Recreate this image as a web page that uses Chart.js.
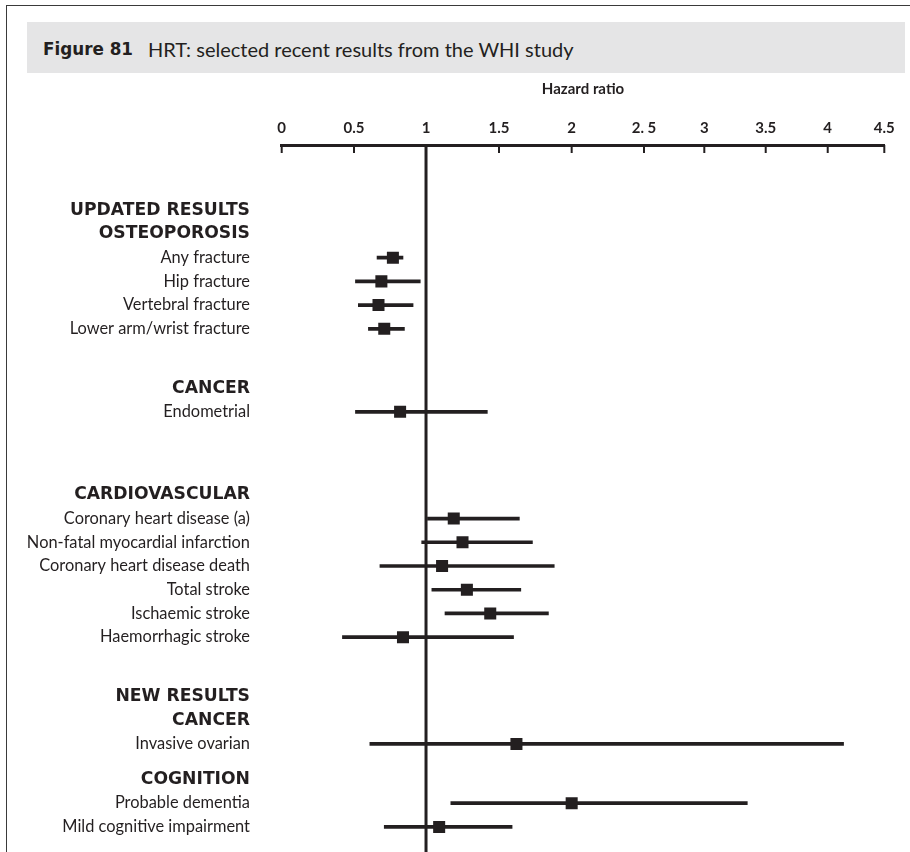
<!DOCTYPE html>
<html lang="en">
<head>
<meta charset="UTF-8" />
<title>Figure 81 HRT: selected recent results from the WHI study</title>
<script src="https://cdn.jsdelivr.net/npm/chart.js@4.4.1/dist/chart.umd.min.js"></script>
<style>
  body { margin: 0; background: #fff; font-family: Lato, sans-serif; color: #231f20; }
  #wrap { position: relative; width: 910px; height: 852px; overflow: hidden; }
  .frame {
    position: absolute; left: 6px; top: 5px; width: 1000px; height: 1000px;
    border-left: 1.5px solid #3a3a3a; border-top: 1.5px solid #3a3a3a;
  }
  .band {
    position: absolute; left: 27px; top: 22px; width: 878px; height: 51px;
    background: #e5e5e6; box-sizing: border-box; padding: 2px 0 0 16px;
    display: flex; align-items: center; font-size: 20px;
  }
  .band b { font-family: 'DejaVu Sans', sans-serif; font-size: 16.8px; margin-right: 15px; }
  canvas { position: absolute; left: 0; top: 0; }
</style>
</head>
<body>
<div id="wrap">
  <div class="frame"></div>
  <div class="band"><b>Figure 81</b><span>HRT: selected recent results from the WHI study</span></div>
  <canvas id="forest" width="910" height="852"></canvas>
</div>

<script>
  const labels = [
    'UPDATED RESULTS', 'OSTEOPOROSIS', 'Any fracture', 'Hip fracture', 'Vertebral fracture',
    'Lower arm/wrist fracture', 'CANCER', 'Endometrial', 'CARDIOVASCULAR',
    'Coronary heart disease (a)', 'Non-fatal myocardial infarction', 'Coronary heart disease death',
    'Total stroke', 'Ischaemic stroke', 'Haemorrhagic stroke', 'NEW RESULTS', 'CANCER',
    'Invasive ovarian', 'COGNITION', 'Probable dementia', 'Mild cognitive impairment'
  ];
  const hr = [null, null, 0.77, 0.69, 0.67, 0.71, null, 0.82, null, 1.19, 1.25, 1.11, 1.28, 1.44, 0.84, null, null, 1.62, null, 2.00, 1.09];
  const lo = [null, null, 0.66, 0.51, 0.53, 0.60, null, 0.51, null, 1.01, 0.97, 0.68, 1.04, 1.13, 0.42, null, null, 0.61, null, 1.17, 0.71];
  const hi = [null, null, 0.84, 0.96, 0.91, 0.85, null, 1.42, null, 1.64, 1.73, 1.88, 1.65, 1.84, 1.60, null, null, 4.14, null, 3.35, 1.59];

  const tickValues = [0, 0.5, 1, 1.5, 2, 2.5, 3, 3.5, 4, 4.5];
  const tickLabels = ['0', '0.5', '1', '1.5', '2', '2. 5', '3', '3.5', '4', '4.5'];

  // the printed axis is squeezed after 2.5: where each tick sits along the axis (0..1)
  const tickStops = [0, 0.12, 0.2395, 0.3606, 0.4812, 0.6012, 0.7013, 0.8032, 0.9061, 1];
  // half-row slots between consecutive rows, plus empty slots above and below
  const gapSlots = [2, 2, 2, 2, 2, 5, 2, 7, 2, 2, 2, 2, 2, 2, 5, 2, 2, 3, 2, 2];
  const leadSlots = 5, tailSlots = 1;

  const ink = '#231f20';
  Chart.defaults.font.family = 'Lato';
  Chart.defaults.color = ink;

  function valueToFrac(v) {
    let i = 1;
    while (i < tickValues.length - 1 && v > tickValues[i]) i++;
    const t = (v - tickValues[i - 1]) / (tickValues[i] - tickValues[i - 1]);
    return tickStops[i - 1] + t * (tickStops[i] - tickStops[i - 1]);
  }
  function fracToValue(f) {
    let i = 1;
    while (i < tickStops.length - 1 && f > tickStops[i]) i++;
    const t = (f - tickStops[i - 1]) / (tickStops[i] - tickStops[i - 1]);
    return tickValues[i - 1] + t * (tickValues[i] - tickValues[i - 1]);
  }

  class PiecewiseScale extends Chart.LinearScale {
    getPixelForValue(value) {
      if (value === null || value === undefined) return NaN;
      return this.getPixelForDecimal(valueToFrac(value));
    }
    getValueForPixel(pixel) {
      return fracToValue(this.getDecimalForPixel(pixel));
    }
  }
  PiecewiseScale.id = 'piecewise';
  PiecewiseScale.defaults = Chart.LinearScale.defaults;
  Chart.register(PiecewiseScale);

  // expand rows into category slots
  const cats = [], hrSlots = [], ciSlots = [];
  function blank(n) {
    for (let k = 0; k < n; k++) { cats.push(''); hrSlots.push(null); ciSlots.push(null); }
  }
  blank(leadSlots);
  labels.forEach((lab, i) => {
    if (i > 0) blank(gapSlots[i - 1] - 1);
    cats.push(lab);
    hrSlots.push(hr[i]);
    ciSlots.push(lo[i] === null ? null : [lo[i], hi[i]]);
  });
  blank(tailSlots);

  const isHeading = s => s !== '' && s === s.toUpperCase();

  const refLine = {
    id: 'refLine',
    beforeDatasetsDraw(chart) {
      const { ctx, chartArea } = chart;
      const x = chart.scales.x;
      ctx.save();
      ctx.strokeStyle = ink;
      // line of no effect
      ctx.lineWidth = 3;
      const px = x.getPixelForValue(1);
      ctx.beginPath();
      ctx.moveTo(px, chartArea.top);
      ctx.lineTo(px, chart.height);
      ctx.stroke();
      // tick marks hang below the axis line
      ctx.lineWidth = 2;
      x.ticks.forEach(t => {
        const p = x.getPixelForValue(t.value);
        ctx.beginPath();
        ctx.moveTo(p, chartArea.top);
        ctx.lineTo(p, chartArea.top + 8);
        ctx.stroke();
      });
      ctx.restore();
    }
  };

  new Chart(document.getElementById('forest'), {
    data: {
      labels: cats,
      datasets: [
        {
          type: 'line',
          indexAxis: 'y',
          data: hrSlots,
          showLine: false,
          pointStyle: 'rect',
          pointRadius: 8.5,
          pointHoverRadius: 8.5,
          pointBorderWidth: 0,
          pointBackgroundColor: ink,
          order: 1
        },
        {
          type: 'bar',
          indexAxis: 'y',
          data: ciSlots,
          backgroundColor: ink,
          borderWidth: 0,
          barThickness: 3,
          order: 2
        }
      ]
    },
    options: {
      indexAxis: 'y',
      responsive: false,
      devicePixelRatio: 1,
      animation: false,
      layout: { autoPadding: false, padding: { top: 80, right: 25.7, bottom: 7.3, left: 0 } },
      plugins: { legend: { display: false }, tooltip: { enabled: false } },
      scales: {
        x: {
          type: 'piecewise',
          axis: 'x',
          position: 'top',
          min: 0,
          max: 4.5,
          afterFit: s => { s.height = 65; },
          ticks: {
            stepSize: 0.5,
            autoSkip: false,
            maxRotation: 0,
            padding: 8,
            color: ink,
            font: { size: 15, weight: 'bold' },
            callback: (v, i) => tickLabels[i]
          },
          grid: { display: true, drawOnChartArea: false, drawTicks: false, color: 'rgba(0,0,0,0)' },
          border: { display: true, width: 3, color: ink },
          title: {
            display: true,
            text: 'Hazard ratio',
            color: ink,
            font: { size: 15, weight: 'bold' },
            padding: { top: 0, bottom: 0 }
          }
        },
        y: {
          type: 'category',
          axis: 'y',
          offset: true,
          min: 0,
          max: cats.length - 1,
          afterFit: s => {
            s.width = 281.7;
            s.paddingTop = 0;
            s.paddingBottom = 0;
          },
          ticks: {
            autoSkip: false,
            padding: 31.7,
            color: ink,
            font: ctx => isHeading(cats[ctx.index] || '')
              ? { family: 'DejaVu Sans', size: 17.2, weight: 'bold' }
              : { family: 'Lato', size: 16.4, weight: 'normal' }
          },
          grid: { display: false, drawTicks: false },
          border: { display: false }
        }
      }
    },
    plugins: [refLine]
  });
</script>
</body>
</html>
